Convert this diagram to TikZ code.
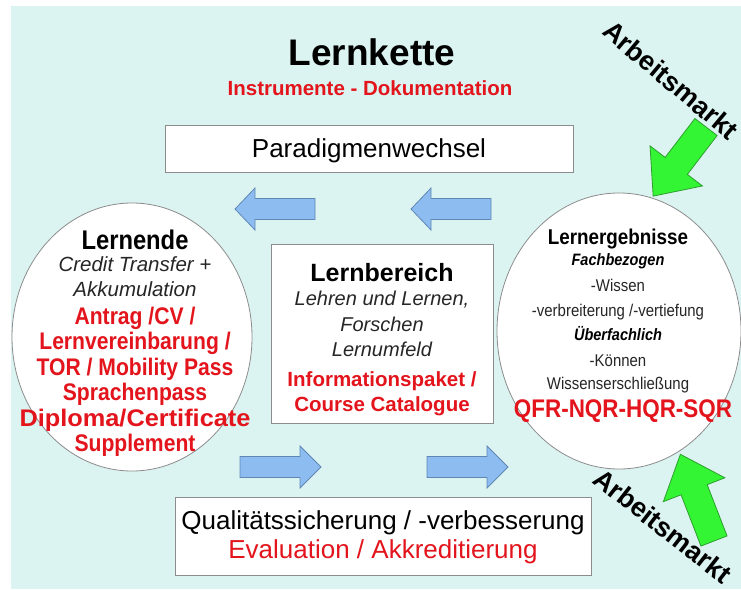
\documentclass[tikz,border=0pt]{standalone}
\usepackage{fontspec}
\setmainfont{Liberation Sans}
\newfontfamily\nrw[FakeStretch=0.88]{Liberation Sans}
\usetikzlibrary{shapes.geometric}
\definecolor{bgc}{HTML}{DCF4F1}
\definecolor{txtred}{HTML}{E3141C}
\definecolor{arrblue}{HTML}{8DBDF0}
\definecolor{arrblueline}{HTML}{5F86B5}
\definecolor{mktgreen}{HTML}{33F533}
\definecolor{mktgreenline}{HTML}{2E9E2E}
\definecolor{framegray}{HTML}{8C8C8C}
\newcommand\fz[1]{\fontsize{#1}{#1}\selectfont}
\tikzset{
  pics/blockarrow/.style args={#1/#2/#3/#4}{code={
    \path[pic actions] (0,-#2) -- ({#1-#4},-#2) -- ({#1-#4},-#3) -- (#1,0)
      -- ({#1-#4},#3) -- ({#1-#4},#2) -- (0,#2) -- cycle;
  }},
  boxframe/.style={draw=framegray, line width=1pt, fill=white},
  roundframe/.style={draw=framegray, line width=0.8pt, fill=white, ellipse, inner sep=0pt},
  ln/.style={inner sep=0pt, anchor=base},
  bluearrow/.style={draw=arrblueline, fill=arrblue, line width=0.8pt},
  greenarrow/.style={draw=mktgreenline, fill=mktgreen, line width=0.8pt},
  market/.style={inner sep=0pt, anchor=center, text height=19.3pt, text depth=0pt,
                 font=\fz{27}\bfseries},
}
\begin{document}
\begin{tikzpicture}[x=1pt,y=-1pt]
\useasboundingbox (0,0) rectangle (741,589);
\fill[bgc] (11,6) rectangle (741,589);

% headings
\node[ln, font=\fz{37}\bfseries] (title) at (372,65.5) {Lernkette};
\node[ln, font=\fz{20.5}\bfseries, text=txtred] (subtitle) at (370,95.5) {Instrumente - Dokumentation};

% paradigm box
\node[boxframe, minimum width=408, minimum height=47, inner sep=0pt] (para) at (369,148.5) {};
\node[ln, font=\fz{26}] (paratext) at (369,157.5) {Paradigmenwechsel};

% left circle: learners
\node[roundframe, minimum width=240, minimum height=268] (learner) at (132,337) {};
\begin{scope}[every node/.style={ln}]
\node[font=\nrw\fz{27}\bfseries] (l1) at (135,249.7) {Lernende};
\node[font=\fz{20.5}\itshape, text=black!85] (l2) at (135,271.3) {Credit Transfer +};
\node[font=\fz{20.5}\itshape, text=black!85] (l3) at (135,296.3) {Akkumulation};
\node[font=\nrw\fz{24}\bfseries, text=txtred] (l4) at (135,324.6) {Antrag /CV /};
\node[font=\nrw\fz{24}\bfseries, text=txtred] (l5) at (135,349.6) {Lernvereinbarung /};
\node[font=\nrw\fz{24}\bfseries, text=txtred] (l6) at (135,375.6) {TOR / Mobility Pass};
\node[font=\nrw\fz{24}\bfseries, text=txtred] (l7) at (135,400.6) {Sprachenpass};
\node[font=\nrw\fz{24}\bfseries, text=txtred, xscale=1.2] (l8) at (135,426.6) {Diploma/Certificate};
\node[font=\nrw\fz{24}\bfseries, text=txtred] (l9) at (135,451.6) {Supplement};
\end{scope}

% centre box: learning area
\node[boxframe, minimum width=222, minimum height=179, inner sep=0pt] (area) at (382,333.5) {};
\begin{scope}[every node/.style={ln}]
\node[font=\fz{25}\bfseries] (a1) at (382,281) {Lernbereich};
\node[font=\fz{20}\itshape, text=black!85] (a2) at (382,305.2) {Lehren und Lernen,};
\node[font=\fz{20}\itshape, text=black!85] (a3) at (382,331.2) {Forschen};
\node[font=\fz{20}\itshape, text=black!85] (a4) at (382,356.2) {Lernumfeld};
\node[font=\fz{20.5}\bfseries, text=txtred] (a5) at (382,386.3) {Informationspaket /};
\node[font=\fz{20.5}\bfseries, text=txtred] (a6) at (382,411.3) {Course Catalogue};
\end{scope}

% right circle: learning outcomes
\node[roundframe, minimum width=244, minimum height=276] (outcome) at (619,331) {};
\begin{scope}[every node/.style={ln}]
\node[font=\nrw\fz{21.4}\bfseries] (o1) at (618,244.7) {Lernergebnisse};
\node[font=\nrw\fz{16.5}\bfseries\itshape] (o2) at (618,265.9) {Fachbezogen};
\node[font=\nrw\fz{17}, text=black!85] (o3) at (618,291.1) {-Wissen};
\node[font=\nrw\fz{17}, text=black!85] (o4) at (618,316.1) {-verbreiterung /-vertiefung};
\node[font=\nrw\fz{16.5}\bfseries\itshape] (o5) at (618,340.9) {Überfachlich};
\node[font=\nrw\fz{17}, text=black!85] (o6) at (618,366.1) {-Können};
\node[font=\nrw\fz{17}, text=black!85] (o7) at (618,389.1) {Wissenserschließung};
\node[font=\nrw\fz{25.5}\bfseries, text=txtred] (o8) at (623,417.1) {QFR-NQR-HQR-SQR};
\end{scope}

% quality box
\node[boxframe, minimum width=416, minimum height=78, inner sep=0pt] (quality) at (383,536) {};
\node[ln, font=\fz{26}] (q1) at (383,529.3) {Qualitätssicherung / -verbesserung};
\node[ln, font=\fz{26}, text=txtred] (q2) at (383,558.3) {Evaluation / Akkreditierung};

% blue flow arrows
\pic[bluearrow, rotate=180] at (315,209) {blockarrow={80/10.5/21/20}};
\pic[bluearrow, rotate=180] at (491,209) {blockarrow={80/10.5/21/20}};
\pic[bluearrow] at (240,467) {blockarrow={81/10.5/21/21}};
\pic[bluearrow] at (427,467) {blockarrow={81/10.5/21/21}};

% labour market arrows
\pic[greenarrow, rotate=-127.4] at (706,127) {blockarrow={87/14/33/38}};
\pic[greenarrow, rotate=111.2] at (714,541) {blockarrow={93/14/33/38}};
\node[market, rotate=-40] (mkt1) at (671,80) {Arbeitsmarkt};
\node[market, rotate=-38] (mkt2) at (663,526) {Arbeitsmarkt};
\end{tikzpicture}
\end{document}
